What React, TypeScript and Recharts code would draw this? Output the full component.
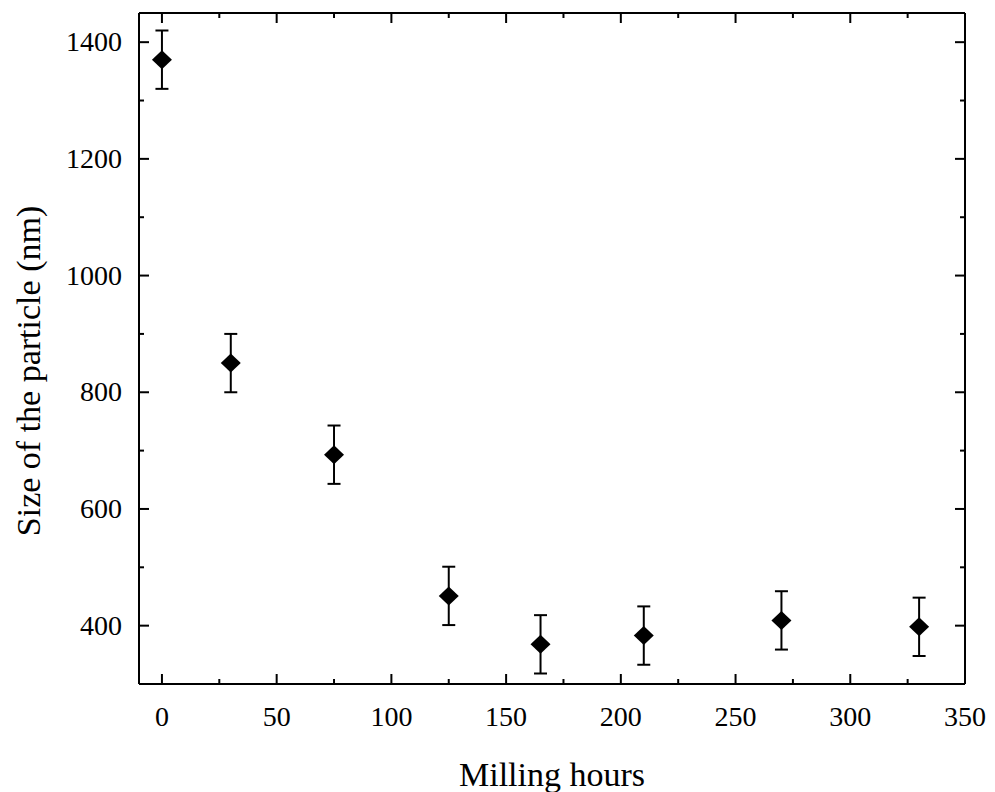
import React from "react";
import {
  ScatterChart,
  Scatter,
  XAxis,
  YAxis,
  ErrorBar,
  Label,
} from "recharts";

// milling time (h) vs particle size (nm)
const hours = [0, 30, 75, 125, 165, 210, 270, 330];
const sizes = [1370, 850, 693, 451, 368, 383, 409, 398];
const errors = [50, 50, 50, 50, 50, 50, 50, 50];

const xTicks = [0, 25, 50, 75, 100, 125, 150, 175, 200, 225, 250, 275, 300, 325, 350];
const yTicks = [400, 500, 600, 700, 800, 900, 1000, 1100, 1200, 1300, 1400];

const FONT = "'Liberation Serif', 'Times New Roman', serif";
const INK = "#000";
const LW = 2;

// plot box edges (px)
const LEFT = 139;
const TOP = 13;
const RIGHT = 965;
const BOTTOM = 684;

const points = hours.map((h, i) => ({ h, size: sizes[i], err: errors[i] }));

function XTick(props: any) {
  const { x, payload, side } = props;
  const v = payload.value;
  const major = v % 50 === 0;
  const len = major ? 10 : 5;
  const base = side === "bottom" ? BOTTOM : TOP;
  const dir = side === "bottom" ? -1 : 1;
  return (
    <g>
      <line x1={x} x2={x} y1={base} y2={base + dir * len} stroke={INK} strokeWidth={LW} />
      {side === "bottom" && major && (
        <text x={x} y={BOTTOM + 42} textAnchor="middle" fontFamily={FONT} fontSize={28} fill={INK}>
          {v}
        </text>
      )}
    </g>
  );
}

function YTick(props: any) {
  const { y, payload, side } = props;
  const v = payload.value;
  const major = v % 200 === 0;
  const len = major ? 10 : 5;
  const base = side === "left" ? LEFT : RIGHT;
  const dir = side === "left" ? 1 : -1;
  return (
    <g>
      <line x1={base} x2={base + dir * len} y1={y} y2={y} stroke={INK} strokeWidth={LW} />
      {side === "left" && major && (
        <text x={LEFT - 17} y={y + 9} textAnchor="end" fontFamily={FONT} fontSize={28} fill={INK}>
          {v}
        </text>
      )}
    </g>
  );
}

function Diamond(props: any) {
  const { cx, cy } = props;
  const w = 10;
  const h = 9.5;
  return (
    <polygon
      points={`${cx},${cy - h} ${cx + w},${cy} ${cx},${cy + h} ${cx - w},${cy}`}
      fill={INK}
    />
  );
}

export default function App() {
  return (
    <div style={{ position: "absolute", left: 0, top: 0, background: "#fff" }}>
      <ScatterChart
        width={995}
        height={792}
        margin={{ top: 0, right: 0, bottom: 0, left: 0 }}
      >
        <XAxis
          xAxisId="bottom"
          dataKey="h"
          type="number"
          domain={[-10, 350]}
          ticks={xTicks}
          interval={0}
          allowDataOverflow
          height={792 - BOTTOM}
          tickLine={false}
          axisLine={{ stroke: INK, strokeWidth: LW }}
          tick={<XTick side="bottom" />}
        >
          <Label
            content={() => (
              <text x={552} y={786} textAnchor="middle" fontFamily={FONT} fontSize={34} fill={INK}>
                Milling hours
              </text>
            )}
          />
        </XAxis>
        <XAxis
          xAxisId="top"
          orientation="top"
          dataKey="h"
          type="number"
          domain={[-10, 350]}
          ticks={xTicks}
          interval={0}
          allowDataOverflow
          height={TOP}
          tickLine={false}
          axisLine={{ stroke: INK, strokeWidth: LW }}
          tick={<XTick side="top" />}
        />
        <YAxis
          yAxisId="left"
          dataKey="size"
          type="number"
          domain={[300, 1450]}
          ticks={yTicks}
          interval={0}
          allowDataOverflow
          width={LEFT}
          tickLine={false}
          axisLine={{ stroke: INK, strokeWidth: LW }}
          tick={<YTick side="left" />}
        >
          <Label
            content={() => (
              <text
                x={40}
                y={371}
                transform="rotate(-90, 40, 371)"
                textAnchor="middle"
                fontFamily={FONT}
                fontSize={34}
                fill={INK}
              >
                Size of the particle (nm)
              </text>
            )}
          />
        </YAxis>
        <YAxis
          yAxisId="right"
          orientation="right"
          dataKey="size"
          type="number"
          domain={[300, 1450]}
          ticks={yTicks}
          interval={0}
          allowDataOverflow
          width={995 - RIGHT}
          tickLine={false}
          axisLine={{ stroke: INK, strokeWidth: LW }}
          tick={<YTick side="right" />}
        />
        <Scatter
          data={points}
          xAxisId="bottom"
          yAxisId="left"
          shape={<Diamond />}
          isAnimationActive={false}
        >
          <ErrorBar
            dataKey="err"
            direction="y"
            width={6.5}
            stroke={INK}
            strokeWidth={LW}
            isAnimationActive={false}
          />
        </Scatter>
      </ScatterChart>
    </div>
  );
}
